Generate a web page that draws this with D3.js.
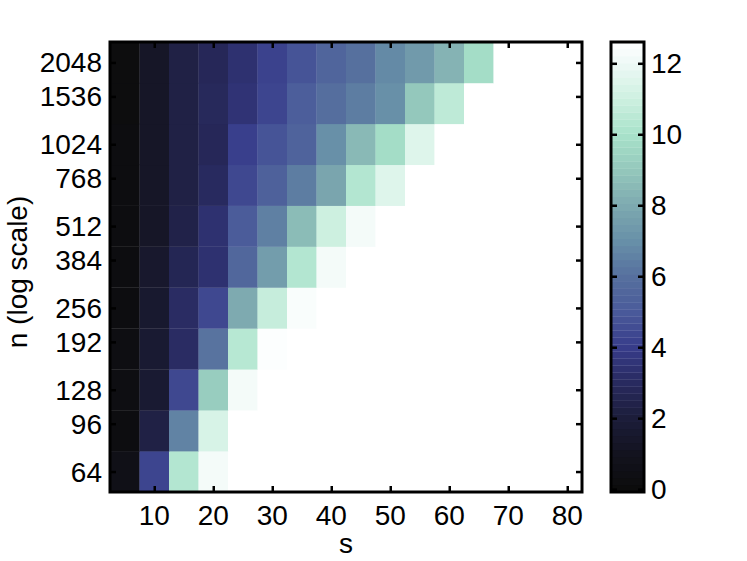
<!DOCTYPE html>
<html>
<head>
<meta charset="utf-8">
<script src="https://cdn.jsdelivr.net/npm/d3@7/dist/d3.min.js"></script>
<style>
  html, body { margin: 0; padding: 0; background: #fff; }
  svg { display: block; }
  text { font-family: "Liberation Sans", Arial, Helvetica, sans-serif; fill: #000; }
</style>
</head>
<body>
<svg id="chart" width="747" height="561"></svg>
<script>
// ---- data ----
const sValues = [5, 10, 15, 20, 25, 30, 35, 40, 45, 50, 55, 60, 65, 70, 75, 80];
const nValues = [64, 96, 128, 192, 256, 384, 512, 768, 1024, 1536, 2048];
const xTicks = [10, 20, 30, 40, 50, 60, 70, 80];
const yTicks = [64, 96, 128, 192, 256, 384, 512, 768, 1024, 1536, 2048];
const cTicks = [0, 2, 4, 6, 8, 10, 12];
// one row per n (same order as nValues), one entry per s
const row64   = [0.6, 4.3, 10.3, 12.2, 12.6, 12.6, 12.6, 12.6, 12.6, 12.6, 12.6, 12.6, 12.6, 12.6, 12.6, 12.6];
const row96   = [0.2, 2.3, 6.6, 11.3, 12.6, 12.6, 12.6, 12.6, 12.6, 12.6, 12.6, 12.6, 12.6, 12.6, 12.6, 12.6];
const row128  = [0.3, 1.7, 4.4, 9.2, 12.2, 12.6, 12.6, 12.6, 12.6, 12.6, 12.6, 12.6, 12.6, 12.6, 12.6, 12.6];
const row192  = [0.3, 1.7, 3.1, 6.1, 10.4, 12.5, 12.6, 12.6, 12.6, 12.6, 12.6, 12.6, 12.6, 12.6, 12.6, 12.6];
const row256  = [0.2, 1.6, 3.1, 4.4, 8.0, 10.8, 12.4, 12.6, 12.6, 12.6, 12.6, 12.6, 12.6, 12.6, 12.6, 12.6];
const row384  = [0.2, 1.5, 2.7, 3.4, 5.6, 7.5, 10.3, 12.2, 12.6, 12.6, 12.6, 12.6, 12.6, 12.6, 12.6, 12.6];
const row512  = [0.2, 1.3, 2.4, 3.4, 5.1, 6.5, 8.6, 11.0, 12.2, 12.6, 12.6, 12.6, 12.6, 12.6, 12.6, 12.6];
const row768  = [0.2, 1.3, 2.3, 3.0, 4.4, 5.3, 6.4, 7.8, 10.3, 11.5, 12.6, 12.6, 12.6, 12.6, 12.6, 12.6];
const row1024 = [0.2, 1.3, 2.3, 2.8, 4.1, 4.8, 5.4, 7.0, 8.5, 9.8, 11.5, 12.6, 12.6, 12.6, 12.6, 12.6];
const row1536 = [0.1, 1.3, 2.3, 2.9, 3.5, 4.3, 5.2, 5.9, 6.4, 7.0, 9.0, 10.6, 12.6, 12.6, 12.6, 12.6];
const row2048 = [0.1, 1.3, 2.3, 2.8, 3.4, 4.2, 4.8, 5.5, 6.0, 6.8, 7.4, 8.3, 9.8, 12.6, 12.6, 12.6];
const rows = [row64, row96, row128, row192, row256, row384, row512, row768, row1024, row1536, row2048];
// colormap anchors
const cmapStops  = [0, 1, 2, 3, 4, 5, 6, 7, 8, 9, 10, 11, 12, 12.6];
const cmapColors = ["#0c0c0c", "#13131f", "#1c1d3a", "#282a5f", "#373c8a", "#4a5a9a", "#56709e",
                    "#6890a8", "#7eaab0", "#94c8bc", "#a8e2ca", "#cdf0e0", "#eef9f6", "#ffffff"];
const cMin = 0, cMax = 12.6;

// ---- layout ----
const svg = d3.select("#chart");
const L = 110, R = 582, T = 42, B = 492;
const font = 28;

const x = d3.scaleLinear().domain([2.5, 82.5]).range([L, R]);
const yBand = d3.scaleBand().domain(nValues.slice().reverse()).range([T, B]).padding(0);
const yLog = d3.scaleLog().base(2).domain([Math.pow(2, 5.75), Math.pow(2, 11.25)]).range([B, T]);
const color = d3.scaleLinear().domain(cmapStops).range(cmapColors).interpolate(d3.interpolateRgb).clamp(true);

const cells = [];
rows.forEach((r, i) => r.forEach((v, j) => cells.push({ n: nValues[i], s: sValues[j], v })));
const half = (sValues[1] - sValues[0]) / 2;

svg.append("g").selectAll("rect").data(cells).join("rect")
  .attr("x", d => x(d.s - half))
  .attr("width", d => x(d.s + half) - x(d.s - half) + 0.3)
  .attr("y", d => yBand(d.n))
  .attr("height", yBand.bandwidth() + 0.3)
  .attr("fill", d => color(d.v));

// axes (ticks inside, box)
const tickLen = 6;
const axG = svg.append("g");
const xBottom = d3.axisBottom(x).tickValues(xTicks).tickSize(-tickLen).tickPadding(0).tickFormat(d3.format("d"));
const gxb = axG.append("g").attr("transform", `translate(0,${B})`).call(xBottom);
gxb.selectAll("text").remove();
const gxt = axG.append("g").attr("transform", `translate(0,${T})`).call(d3.axisTop(x).tickValues(xTicks).tickSize(-tickLen));
gxt.selectAll("text").remove();
const gyl = axG.append("g").attr("transform", `translate(${L},0)`).call(d3.axisLeft(yLog).tickValues(yTicks).tickSize(-tickLen));
gyl.selectAll("text").remove();
const gyr = axG.append("g").attr("transform", `translate(${R},0)`).call(d3.axisRight(yLog).tickValues(yTicks).tickSize(-tickLen));
gyr.selectAll("text").remove();
axG.selectAll(".domain").remove();
axG.selectAll(".tick line").attr("stroke", "#000").attr("stroke-width", 2.5);

svg.append("rect").attr("x", L).attr("y", T).attr("width", R - L).attr("height", B - T)
  .attr("fill", "none").attr("stroke", "#000").attr("stroke-width", 3);

// tick labels
svg.append("g").selectAll("text").data(xTicks).join("text")
  .attr("x", d => x(d)).attr("y", 525)
  .attr("text-anchor", "middle").attr("font-size", font)
  .text(d => d);
svg.append("g").selectAll("text").data(yTicks).join("text")
  .attr("x", 102).attr("y", d => yLog(d) + 10)
  .attr("text-anchor", "end").attr("font-size", font)
  .text(d => d);

// axis labels
svg.append("text").attr("x", (L + R) / 2).attr("y", 553).attr("text-anchor", "middle")
  .attr("font-size", font).text("s");
svg.append("text").attr("transform", `translate(27,272) rotate(-90)`).attr("text-anchor", "middle")
  .attr("font-size", font).text("n (log scale)");

// colorbar
const cbL = 611, cbR = 644;
const cbScale = d3.scaleLinear().domain([-0.08, cMax]).range([B, T]);
const nBands = 64;
const bandStep = (cMax - (-0.08)) / nBands;
const bands = d3.range(nBands).map(i => -0.08 + i * bandStep);
svg.append("g").selectAll("rect").data(bands).join("rect")
  .attr("x", cbL).attr("width", cbR - cbL)
  .attr("y", d => cbScale(d + bandStep))
  .attr("height", d => cbScale(d) - cbScale(d + bandStep) + 0.3)
  .attr("fill", d => color(Math.max(cMin, d + bandStep / 2)));

const cbG = svg.append("g");
const cbl = cbG.append("g").attr("transform", `translate(${cbL},0)`).call(d3.axisLeft(cbScale).tickValues(cTicks).tickSize(-tickLen));
cbl.selectAll("text").remove();
const cbr = cbG.append("g").attr("transform", `translate(${cbR},0)`).call(d3.axisRight(cbScale).tickValues(cTicks).tickSize(-tickLen));
cbr.selectAll("text").remove();
cbG.selectAll(".domain").remove();
cbG.selectAll(".tick line").attr("stroke", "#000").attr("stroke-width", 2.5);
svg.append("rect").attr("x", cbL).attr("y", T).attr("width", cbR - cbL).attr("height", B - T)
  .attr("fill", "none").attr("stroke", "#000").attr("stroke-width", 3);

svg.append("g").selectAll("text").data(cTicks).join("text")
  .attr("x", 651).attr("y", d => cbScale(d) + 10)
  .attr("text-anchor", "start").attr("font-size", font)
  .text(d => d);
</script>
</body>
</html>
